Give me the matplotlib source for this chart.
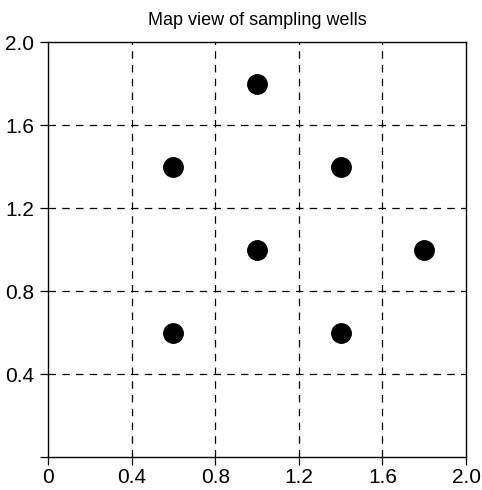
import matplotlib
matplotlib.use("Agg")
import matplotlib.pyplot as plt

plt.rcParams['font.family'] = ['Liberation Sans', 'DejaVu Sans']

well_x = [1.0, 0.6, 1.4, 1.0, 1.8, 0.6, 1.4]
well_y = [1.8, 1.4, 1.4, 1.0, 1.0, 0.6, 0.6]
x_ticks = [0, 0.4, 0.8, 1.2, 1.6, 2.0]
x_labels = ['0', '0.4', '0.8', '1.2', '1.6', '2.0']
y_ticks = [0, 0.4, 0.8, 1.2, 1.6, 2.0]
y_labels = ['', '0.4', '0.8', '1.2', '1.6', '2.0']
grid_vals = [0.4, 0.8, 1.2, 1.6]

fig = plt.figure(figsize=(4.82, 4.9), dpi=100)
ax = fig.add_axes([0.0996, 0.0673, 0.8674, 0.8467])
ax.set_xlim(0, 2)
ax.set_ylim(0, 2)
for g in grid_vals:
    ax.axvline(g, color='black', lw=0.9, ls=(0, (6, 5)), zorder=1)
    ax.axhline(g, color='black', lw=0.9, ls=(0, (6, 5)), zorder=1)
ax.plot(well_x, well_y, 'o', color='black', markersize=14, zorder=3)
ax.set_xticks(x_ticks)
ax.set_xticklabels(x_labels)
ax.set_yticks(y_ticks)
ax.set_yticklabels(y_labels)
ax.tick_params(direction='out', length=6, width=0.9, labelsize=15, pad=4)
ax.tick_params(axis='x', pad=2)
for s in ax.spines.values():
    s.set_linewidth(1.0)
ax.set_title('Map view of sampling wells', fontsize=13, pad=12)
fig.savefig('out.png', dpi=100)
